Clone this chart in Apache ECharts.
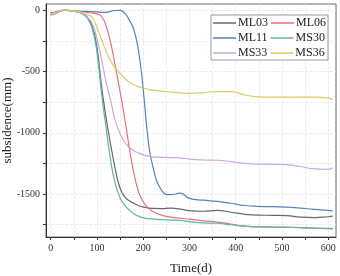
<!DOCTYPE html>
<html>
<head>
<meta charset="utf-8">
<script src="https://cdn.jsdelivr.net/npm/echarts@6/dist/echarts.min.js"></script>
<style>
  html, body { margin: 0; padding: 0; background: #fff; }
  #chart { width: 340px; height: 276px; }
</style>
</head>
<body>
<div id="chart"></div>
<script>
// time axis (days) shared by every series
var days = [0, 10, 20, 30, 40, 50, 60, 70, 80, 90, 100, 110, 120, 130, 140, 150, 160, 170, 180, 190,
  200, 210, 220, 240, 260, 280, 300, 330, 360, 390, 420, 450, 480, 510, 540, 570, 600, 610];

// subsidence (mm)
var ML03 = [-20, -15, -5, 0, -3, -8, -15, -30, -60, -130, -300, -620, -880, -1100, -1300, -1450, -1520, -1555, -1575, -1595,
  -1605, -1612, -1617, -1618, -1615, -1622, -1635, -1640, -1633, -1648, -1665, -1672, -1673, -1675, -1688, -1692, -1685, -1680];
var ML06 = [-40, -30, -10, -3, -3, -5, -8, -12, -18, -25, -30, -50, -130, -270, -460, -660, -880, -1120, -1330, -1480,
  -1560, -1610, -1640, -1672, -1688, -1697, -1705, -1718, -1728, -1745, -1762, -1768, -1770, -1772, -1774, -1778, -1780, -1782];
var ML11 = [-30, -20, -5, 0, -2, -5, -8, -10, -10, -12, -15, -18, -18, -10, -3, -2, -25, -80, -160, -330,
  -640, -1030, -1260, -1470, -1505, -1493, -1535, -1550, -1560, -1575, -1593, -1600, -1603, -1606, -1615, -1625, -1633, -1637];
var MS30 = [-35, -25, -8, -2, -5, -10, -18, -35, -70, -150, -340, -680, -960, -1230, -1420, -1530, -1590, -1630, -1660, -1680,
  -1692, -1700, -1703, -1708, -1712, -1715, -1725, -1735, -1738, -1750, -1762, -1766, -1768, -1770, -1773, -1778, -1782, -1783];
var MS33 = [-30, -22, -6, -1, -4, -9, -15, -30, -60, -110, -230, -400, -590, -740, -905, -1005, -1075, -1120, -1148, -1165,
  -1180, -1190, -1197, -1200, -1202, -1205, -1215, -1222, -1224, -1235, -1250, -1256, -1257, -1260, -1275, -1295, -1298, -1285];
var MS36 = [-30, -20, -5, 0, -3, -6, -12, -22, -38, -60, -140, -240, -335, -415, -475, -515, -555, -585, -608, -625,
  -635, -645, -652, -660, -668, -675, -678, -672, -664, -664, -692, -708, -710, -710, -710, -710, -718, -730];

var names = ['ML03', 'ML06', 'ML11', 'MS30', 'MS33', 'MS36'];
var values = [ML03, ML06, ML11, MS30, MS33, MS36];
var colors = ['#6e6470', '#e8707e', '#5b82b8', '#5fb79a', '#c7a9df', '#dcc86a'];

// tick values
var xTicks = [0, 50, 100, 150, 200, 250, 300, 350, 400, 450, 500, 550, 600];
var xLabels = [0, 100, 200, 300, 400, 500, 600];
var yTicks = [-1750, -1500, -1250, -1000, -750, -500, -250, 0];
var yLabels = [-1500, -1000, -500, 0];

var chart = echarts.init(document.getElementById('chart'));
var font = '"Liberation Serif", "DejaVu Serif", serif';

var series = names.map(function (n, i) {
  return {
    name: n,
    type: 'line',
    smooth: true,
    symbol: 'none',
    lineStyle: { width: 1.2, color: colors[i] },
    itemStyle: { color: colors[i] },
    data: days.map(function (d, j) { return [d, values[i][j]]; })
  };
});

chart.setOption({
  animation: false,
  textStyle: { fontFamily: font },
  grid: {
    left: 46, right: 4, top: 4, bottom: 39,
    outerBoundsMode: 'none',
    containLabel: false,
    show: true, borderColor: '#666', borderWidth: 1
  },
  legend: {
    data: names,
    left: 211, top: 15, width: 118,
    itemWidth: 23, itemHeight: 1.5, itemGap: 3,
    icon: 'rect',
    backgroundColor: '#fff',
    borderColor: '#999', borderWidth: 1, borderRadius: 0,
    padding: [2, 2, 1, 2],
    textStyle: { fontFamily: font, fontSize: 12, color: '#222', padding: [0, 0, 0, -3] }
  },
  xAxis: {
    type: 'value',
    min: -10, max: 617,
    name: 'Time(d)',
    nameLocation: 'middle',
    nameGap: 25,
    nameMoveOverlap: false,
    nameTextStyle: { fontFamily: font, fontSize: 13, color: '#222' },
    axisLine: { show: true, onZero: false, lineStyle: { color: '#333' } },
    axisTick: { show: true, customValues: xTicks, length: 3, lineStyle: { color: '#333' } },
    axisLabel: { customValues: xLabels, fontFamily: font, fontSize: 10, color: '#333', margin: 6 },
    splitLine: { show: true, lineStyle: { color: '#e6e6e6', type: 'dashed', width: 0.8 } }
  },
  yAxis: {
    type: 'value',
    min: -1850, max: 50,
    name: 'subsidence(mm)',
    nameLocation: 'middle',
    nameGap: 32,
    nameMoveOverlap: false,
    nameTextStyle: { fontFamily: font, fontSize: 13, color: '#222' },
    axisLine: { show: true, onZero: false, lineStyle: { color: '#333' } },
    axisTick: { show: true, customValues: yTicks, length: 3, lineStyle: { color: '#333' } },
    axisLabel: {
      customValues: yLabels, fontFamily: font, fontSize: 10, color: '#333', margin: 6,
      formatter: function (v) { return String(v); }
    },
    splitLine: { show: true, lineStyle: { color: '#e6e6e6', type: 'dashed', width: 0.8 } }
  },
  series: series
});
</script>
</body>
</html>
